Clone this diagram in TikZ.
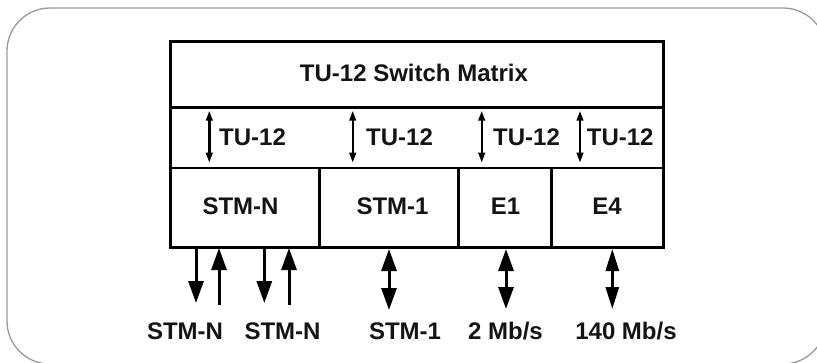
\documentclass[tikz,border=0pt]{standalone}
\usepackage{fontspec}
\setmainfont{Liberation Sans}
\usetikzlibrary{arrows.meta}
\begin{document}
\begin{tikzpicture}[x=1pt,y=-1pt,
  lbl/.style={font=\fontsize{24}{28}\selectfont\bfseries, inner sep=0pt, text=black!92},
  cell/.style={draw, line width=2.5pt, inner sep=0pt, anchor=north west},
  small/.style={line width=2.4pt, {Triangle[length=10pt,width=6.5pt]}-{Triangle[length=10pt,width=6.5pt]}},
  big/.style={line width=3pt, -{Triangle[length=22pt,width=15pt]}},
  bigboth/.style={line width=3pt, {Triangle[length=22pt,width=15pt]}-{Triangle[length=22pt,width=15pt]}}
]
\useasboundingbox (0,0) rectangle (817,362);
\begin{scope}
\clip (0,0) rectangle (817,362);
\draw[line width=1.3pt, draw=black!40, rounded corners=43pt] (7,8) rectangle (826,364);
\end{scope}

% main box
\node[cell, minimum width=493pt, minimum height=66pt] (title) at (169,40) {};
\node[cell, minimum width=493pt, minimum height=60.7pt] (turow) at (169,106) {};
\node[cell, minimum width=149pt, minimum height=79.3pt] (stmn) at (169,166.7) {};
\node[cell, minimum width=139pt, minimum height=79.3pt] (stm1) at (318,166.7) {};
\node[cell, minimum width=93pt, minimum height=79.3pt] (e1) at (457,166.7) {};
\node[cell, minimum width=112pt, minimum height=79.3pt] (e4) at (550,166.7) {};

\node[lbl] (ttl) at (414,73) {TU-12 Switch Matrix};

% TU-12 row
\foreach \i/\ax/\tx in {1/209.3/219, 2/352.7/366, 3/481.7/493, 4/580/586.7} {
  \coordinate (tua\i) at (\ax,110.7);
  \coordinate (tub\i) at (\ax,162.7);
  \draw[small] (tua\i) -- (tub\i);
  \node[lbl, anchor=west] (tut\i) at (\tx,137) {TU-12};
}

% cell texts
\node[lbl] (tstmn) at (240.5,206.5) {STM-N};
\node[lbl] (tstm1) at (392.5,206.5) {STM-1};
\node[lbl] (te1) at (505.5,206.5) {E1};
\node[lbl] (te4) at (607,206.5) {E4};

% bottom arrows
\coordinate (d1a) at (196,246);   \coordinate (d1b) at (196,303);
\coordinate (u1a) at (219,305);   \coordinate (u1b) at (219,248);
\coordinate (d2a) at (264.3,246); \coordinate (d2b) at (264.3,303);
\coordinate (u2a) at (289,305);   \coordinate (u2b) at (289,248);
\coordinate (s1a) at (389,249);   \coordinate (s1b) at (389,310);
\coordinate (m2a) at (506,249);   \coordinate (m2b) at (506,309);
\coordinate (m140a) at (612.3,249); \coordinate (m140b) at (612.3,309);
\draw[big] (d1a) -- (d1b);
\draw[big] (u1a) -- (u1b);
\draw[big] (d2a) -- (d2b);
\draw[big] (u2a) -- (u2b);
\draw[bigboth] (s1a) -- (s1b);
\draw[bigboth] (m2a) -- (m2b);
\draw[line width=3pt, {Triangle[length=22pt,width=13pt]}-{Triangle[length=22pt,width=13pt]}] (m140a) -- (m140b);

% bottom labels
\node[lbl] (b1) at (185,331.5) {STM-N};
\node[lbl] (b2) at (282.5,331.5) {STM-N};
\node[lbl] (b3) at (405,331.5) {STM-1};
\node[lbl] (b4) at (505.5,331.5) {2 Mb/s};
\node[lbl] (b5) at (626,331.5) {140 Mb/s};
\end{tikzpicture}
\end{document}
